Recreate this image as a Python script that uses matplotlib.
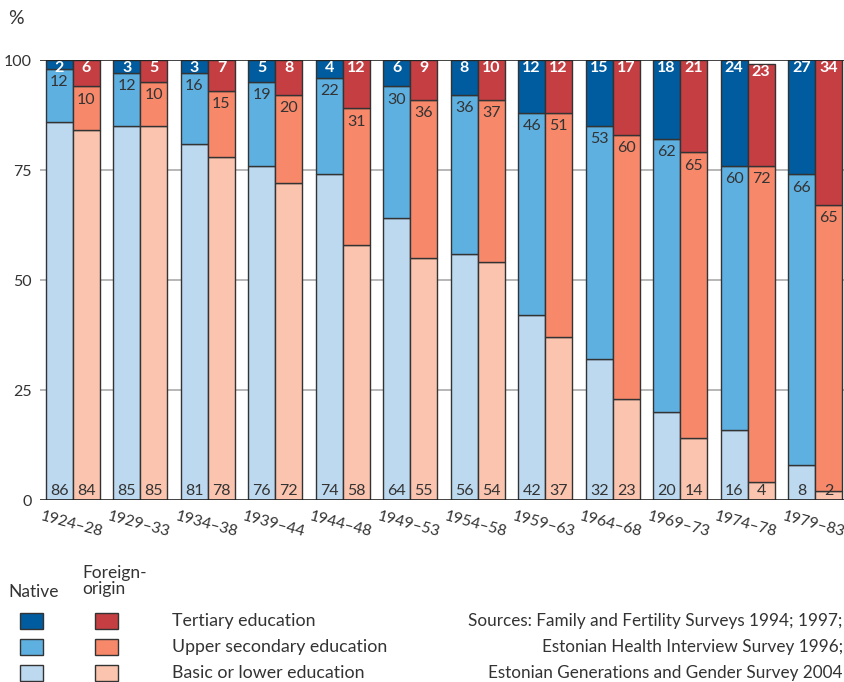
import matplotlib
matplotlib.use("Agg")
import matplotlib.pyplot as plt
from matplotlib.patches import Rectangle
import numpy as np

plt.rcParams['font.family'] = ['Lato', 'DejaVu Sans']

cohorts = ["1924–28", "1929–33", "1934–38", "1939–44", "1944–48", "1949–53",
           "1954–58", "1959–63", "1964–68", "1969–73", "1974–78", "1979–83"]

native_basic = [86, 85, 81, 76, 74, 64, 56, 42, 32, 20, 16, 8]
native_upper = [12, 12, 16, 19, 22, 30, 36, 46, 53, 62, 60, 66]
native_tert = [2, 3, 3, 5, 4, 6, 8, 12, 15, 18, 24, 27]

foreign_basic = [84, 85, 78, 72, 58, 55, 54, 37, 23, 14, 4, 2]
foreign_upper = [10, 10, 15, 20, 31, 36, 37, 51, 60, 65, 72, 65]
foreign_tert = [6, 5, 7, 8, 12, 9, 10, 12, 17, 21, 23, 34]

yticks = [0, 25, 50, 75, 100]

native_colors = ["#bcd9f0", "#5eb0e1", "#005b9f"]
foreign_colors = ["#fbc4ae", "#f7886a", "#c53e42"]
edge = "#333333"
txt = "#333333"

fig = plt.figure(figsize=(8.45, 6.82), dpi=100)
ax = fig.add_axes([40/845, 1-500/682, (845-40)/845, 440/682])

x = np.arange(len(cohorts))
w = 0.4

def draw(pos, basic, upper, tert, colors):
    basic = np.array(basic); upper = np.array(upper); tert = np.array(tert)
    ax.bar(pos, basic, w, color=colors[0], edgecolor=edge, linewidth=1, zorder=3)
    ax.bar(pos, upper, w, bottom=basic, color=colors[1], edgecolor=edge, linewidth=1, zorder=3)
    ax.bar(pos, tert, w, bottom=basic+upper, color=colors[2], edgecolor=edge, linewidth=1, zorder=3)
    for p, b, u, t in zip(pos, basic, upper, tert):
        ax.annotate(f"{b}", (p, 0), xytext=(0, 1.5), textcoords="offset points",
                    ha="center", va="bottom", fontsize=11.5, color=txt, zorder=5)
        ax.annotate(f"{u}", (p, b+u), xytext=(0, -4.5), textcoords="offset points",
                    ha="center", va="top", fontsize=11.5, color=txt, zorder=5)
        ax.annotate(f"{t}", (p, min(b+u+t, 100)), xytext=(0, -0.5), textcoords="offset points",
                    ha="center", va="top", fontsize=11.5, color="white", fontweight="bold", zorder=5)

draw(x - w/2, native_basic, native_upper, native_tert, native_colors)
draw(x + w/2, foreign_basic, foreign_upper, foreign_tert, foreign_colors)

ax.set_xlim(-0.489, 11.445)
ax.set_ylim(0, 100)
ax.set_yticks(yticks)
ax.set_yticklabels([str(v) for v in yticks], fontsize=11.5, color=txt)
ax.tick_params(axis="y", length=0, pad=6)
ax.set_xticks(x)
ax.set_xticklabels(cohorts, rotation=-15, fontsize=11.3, color=txt,
                   ha="center", rotation_mode="anchor")
ax.tick_params(axis="x", length=0, pad=13)
for s in ax.spines.values():
    s.set_visible(False)
for v in yticks:
    if v in (0, 100):
        ax.axhline(v, color="#222222", lw=1.2, zorder=4)
    else:
        ax.axhline(v, color="#aaaaaa", lw=1.2, zorder=1)

fig.text(8/845, 1-19/682, "%", fontsize=14, color=txt, ha="left", va="center")

# legend
fig.text(8/845, 1-592/682, "Native", fontsize=12.5, color=txt, ha="left", va="center")
fig.text(82/845, 1-581/682, "Foreign-\norigin", fontsize=12.5, color=txt, ha="left", va="center",
         linespacing=1.0)
labels = ["Tertiary education", "Upper secondary education", "Basic or lower education"]
ys = [621, 647, 673]
for i, (lab, yy) in enumerate(zip(labels, ys)):
    ci = 2 - i
    fig.patches.append(Rectangle((20/845, 1-(yy+8)/682), 23/845, 16/682, transform=fig.transFigure,
                                 facecolor=native_colors[ci], edgecolor=edge, lw=1))
    fig.patches.append(Rectangle((95/845, 1-(yy+8)/682), 23/845, 16/682, transform=fig.transFigure,
                                 facecolor=foreign_colors[ci], edgecolor=edge, lw=1))
    fig.text(172/845, 1-yy/682, lab, fontsize=12.8, color=txt, ha="left", va="center")

sources = ["Sources: Family and Fertility Surveys 1994; 1997;",
           "Estonian Health Interview Survey 1996;",
           "Estonian Generations and Gender Survey 2004"]
for s, yy in zip(sources, ys):
    fig.text(843/845, 1-yy/682, s, fontsize=12.3, color=txt, ha="right", va="center")

fig.savefig("out.png", dpi=100)
